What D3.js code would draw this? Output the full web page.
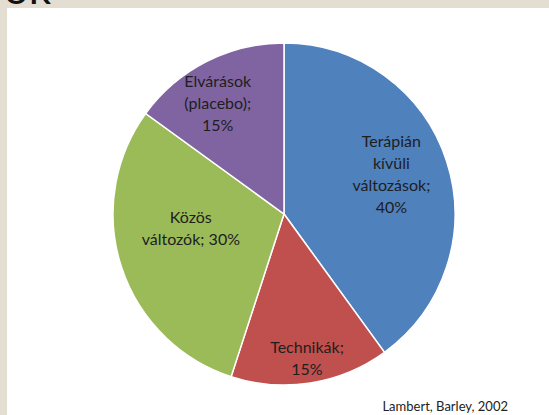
<!DOCTYPE html>
<html>
<head>
<meta charset="utf-8">
<script src="https://cdn.jsdelivr.net/npm/d3@7"></script>
<style>
  html, body { margin: 0; padding: 0; background: #e3ddd2; }
  svg { display: block; }
</style>
</head>
<body>
<div id="chart"></div>
<script>
// adatok
var categories = ['Terápián kívüli változások', 'Technikák', 'Közös változók', 'Elvárások (placebo)'];
var values = [40, 15, 30, 15];
// címkék sorokra bontva, ahogy a képen
var labelLines = [
  ['Terápián', 'kívüli', 'változások;', '40%'],
  ['Technikák;', '15%'],
  ['Közös', 'változók; 30%'],
  ['Elvárások', '(placebo);', '15%']
];
var colors = ['#4f81bd', '#c0504d', '#9bbb59', '#8064a2'];
var source = 'Lambert, Barley, 2002';

var width = 549, height = 415;
var cx = 284, cy = 214, radius = 171;

var svg = d3.select('#chart')
  .append('svg')
  .attr('width', width)
  .attr('height', height);

// bézs háttér + fehér lap
svg.append('rect')
  .attr('width', width).attr('height', height)
  .attr('fill', '#e3ddd2');
svg.append('rect')
  .attr('x', 7).attr('y', 8)
  .attr('width', width - 7).attr('height', height - 8)
  .attr('fill', '#ffffff');

// levágott cím a bal felső sarokban
svg.append('text')
  .attr('x', 51).attr('y', 4)
  .attr('text-anchor', 'end')
  .attr('font-family', 'Lato, sans-serif')
  .attr('font-size', '44px')
  .attr('fill', '#111')
  .text('ok');

var pie = d3.pie().sort(null).value(function (d) { return d; });
var arcs = pie(values);

var arc = d3.arc().innerRadius(0).outerRadius(radius);

var g = svg.append('g')
  .attr('transform', 'translate(' + cx + ',' + cy + ')');

g.selectAll('path')
  .data(arcs)
  .enter()
  .append('path')
  .attr('d', arc)
  .attr('fill', function (d, i) { return colors[i]; })
  .attr('stroke', '#ffffff')
  .attr('stroke-width', 1.5);

// címke helye szeletenként (Excel "best fit"): sugár + kis eltolás
var labelR = [115, 147, 98, 124];
var labelDx = [-2, 0, 0, -10];
var labelDy = [-4, -1, -16, 0];
var lineH = 22;

arcs.forEach(function (d, i) {
  var la = d3.arc().innerRadius(labelR[i]).outerRadius(labelR[i]);
  var c = la.centroid(d);
  var x = c[0] + labelDx[i], y = c[1] + labelDy[i];
  var lines = labelLines[i];
  var t = g.append('text')
    .attr('text-anchor', 'middle')
    .attr('font-family', 'Lato, sans-serif')
    .attr('font-size', '16px')
    .attr('fill', '#1e1e1e');
  lines.forEach(function (s, k) {
    t.append('tspan')
      .attr('x', x)
      .attr('y', y + (k - (lines.length - 1) / 2) * lineH)
      .attr('dy', '0.35em')
      .text(s);
  });
});

// forrás
svg.append('text')
  .attr('x', 508).attr('y', 406)
  .attr('dy', '0.35em')
  .attr('text-anchor', 'end')
  .attr('font-family', 'Lato, sans-serif')
  .attr('font-size', '13px')
  .attr('fill', '#222')
  .text(source);
</script>
</body>
</html>
